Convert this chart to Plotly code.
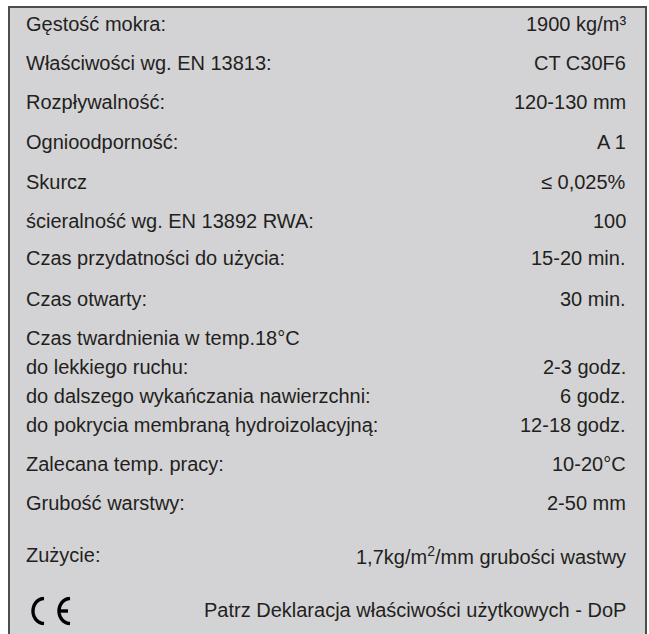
import math
import plotly.graph_objects as go

# Data: property labels and values (rows of the technical data sheet)
labels = [
    "Gęstość mokra:",
    "Właściwości wg. EN 13813:",
    "Rozpływalność:",
    "Ognioodporność:",
    "Skurcz",
    "ścieralność wg. EN 13892 RWA:",
    "Czas przydatności do użycia:",
    "Czas otwarty:",
    "Czas twardnienia w temp.18°C",
    "do lekkiego ruchu:",
    "do dalszego wykańczania nawierzchni:",
    "do pokrycia membraną hydroizolacyjną:",
    "Zalecana temp. pracy:",
    "Grubość warstwy:",
    "Zużycie:",
]
values = [
    "1900 kg/m³",
    "CT C30F6",
    "120-130 mm",
    "A 1",
    "≤ 0,025%",
    "100",
    "15-20 min.",
    "30 min.",
    "",
    "2-3 godz.",
    "6 godz.",
    "12-18 godz.",
    "10-20°C",
    "2-50 mm",
    "1,7kg/m<sup>2</sup>/mm grubości wastwy",
]
footer_text = "Patrz Deklaracja właściwości użytkowych - DoP"

# Layout (pixel rows)
row_y = [24, 63, 102, 142, 182, 221, 258, 299, 338, 367, 396, 425, 464, 503, 555]
footer_y = 610
W, H = 649, 634
x_left, x_right = 24, 628

fnt = dict(family="Liberation Sans, Arial, sans-serif", size=20, color="#231f20")

fig = go.Figure()
fig.add_trace(go.Scatter(x=[0], y=[0], mode="markers", opacity=0, hoverinfo="skip", showlegend=False))

annotations = []
for lab, val, y in zip(labels, values, row_y):
    annotations.append(dict(x=x_left, y=y, text=lab, xanchor="left", yanchor="middle",
                            showarrow=False, font=fnt, xref="x", yref="y"))
    if val:
        annotations.append(dict(x=x_right, y=y, text=val, xanchor="right", yanchor="middle",
                                showarrow=False, font=fnt, xref="x", yref="y"))
annotations.append(dict(x=x_right, y=footer_y, text=footer_text, xanchor="right",
                        yanchor="middle", showarrow=False, font=fnt, xref="x", yref="y"))

# CE mark drawn as two half-ellipses
def arc(cx, cy, rx, ry, a0, a1, n=30):
    pts = []
    for i in range(n + 1):
        a = math.radians(a0 + (a1 - a0) * i / n)
        pts.append((cx + rx * math.cos(a), cy + ry * math.sin(a)))
    return "M " + " L ".join(f"{x:.2f},{y:.2f}" for x, y in pts)

cy = footer_y + 1
cx1, cx2 = 44, 70
rx, ry = 11, 12.5
ce_line = dict(color="#000000", width=3.4)
shapes = [
    dict(type="rect", xref="x", yref="y", x0=9, y0=7, x1=646, y1=H + 10,
         fillcolor="#d3d3d5", line=dict(color="#4d4d4d", width=2), layer="below"),
    dict(type="path", xref="x", yref="y", path=arc(cx1, cy, rx, ry, 90, 270), line=ce_line),
    dict(type="path", xref="x", yref="y", path=arc(cx2, cy, rx, ry, 90, 270), line=ce_line),
    dict(type="line", xref="x", yref="y", x0=cx2 - rx, y0=cy, x1=cx2 - 2, y1=cy, line=ce_line),
]

fig.update_layout(
    width=W, height=H,
    margin=dict(l=0, r=0, t=0, b=0),
    paper_bgcolor="white", plot_bgcolor="white",
    xaxis=dict(range=[0, W], visible=False, fixedrange=True),
    yaxis=dict(range=[H, 0], visible=False, fixedrange=True),
    annotations=annotations,
    shapes=shapes,
    showlegend=False,
)
fig.write_html("out.html", config={"displayModeBar": False},
               post_script="document.body.style.margin='0';")
